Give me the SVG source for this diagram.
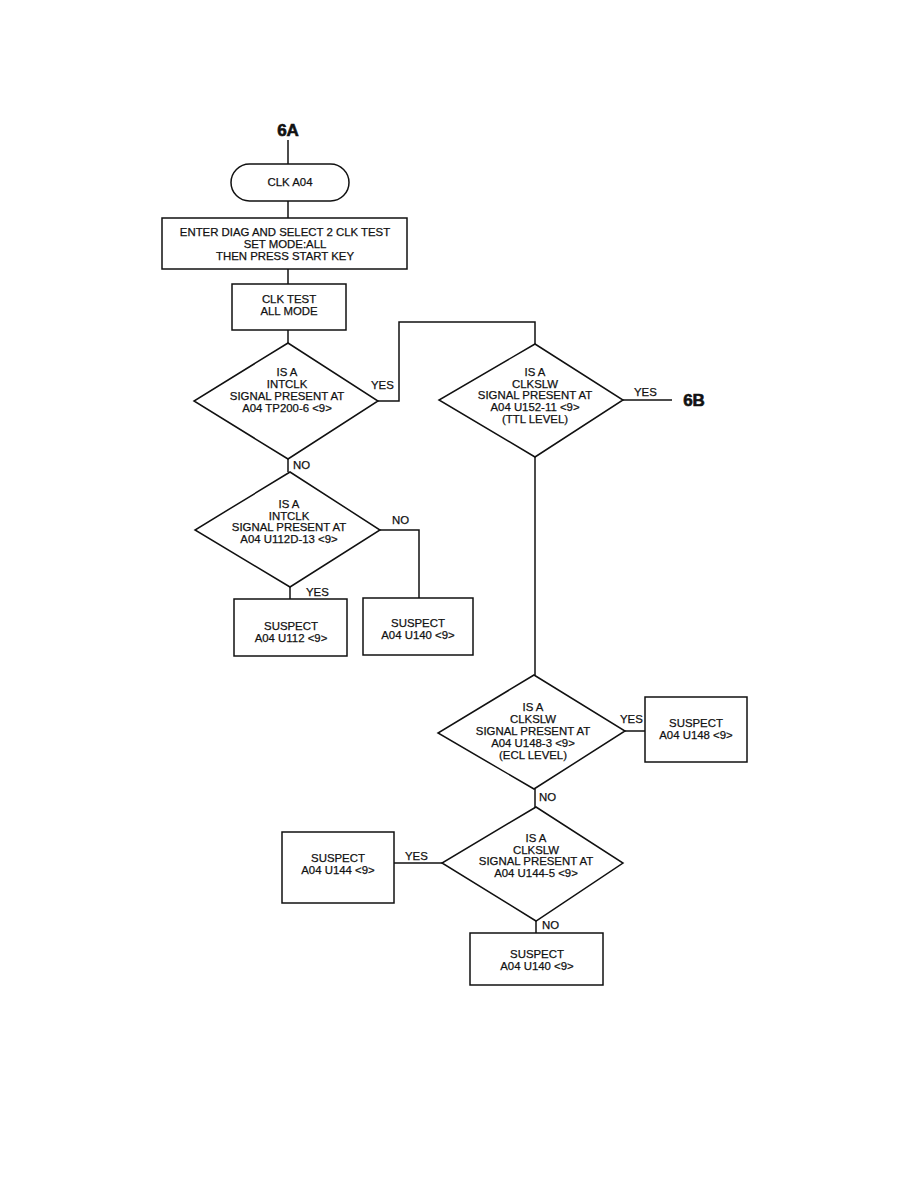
<svg xmlns="http://www.w3.org/2000/svg" width="918" height="1188" viewBox="0 0 918 1188">
<style>
.s{fill:#fff;stroke:#111;stroke-width:1.5}
.c{fill:none;stroke:#111;stroke-width:1.5}
text{font-family:"Liberation Sans",Arial,sans-serif;font-size:11.4px;fill:#111;stroke:#111;stroke-width:0.25;text-anchor:middle}
.l{text-anchor:start}
.b{font-size:17px;font-weight:bold;stroke-width:0.6}
</style>
<rect width="918" height="1188" fill="#fff"/>
<g id="connectors">
<path class="c" d="M288 140V164"/>
<path class="c" d="M288 201V218"/>
<path class="c" d="M288 269V284"/>
<path class="c" d="M288 330V343"/>
<path class="c" d="M378 401H399V322H535V344"/>
<path class="c" d="M623 400H672"/>
<path class="c" d="M288 459V472"/>
<path class="c" d="M380 530H419V598"/>
<path class="c" d="M290 587V599"/>
<path class="c" d="M535 457V675"/>
<path class="c" d="M625 731H645"/>
<path class="c" d="M535 789V807"/>
<path class="c" d="M442 863H394"/>
<path class="c" d="M536 921V933"/>
<text class="l" x="371" y="389">YES</text>
<text class="l" x="634" y="396">YES</text>
<text class="l" x="293" y="469">NO</text>
<text class="l" x="392" y="524">NO</text>
<text class="l" x="306" y="596">YES</text>
<text class="l" x="620" y="723">YES</text>
<text class="l" x="539" y="801">NO</text>
<text class="l" x="405" y="860">YES</text>
<text class="l" x="542" y="929">NO</text>
</g>
<g id="lbl6A"><text class="b" x="288" y="136">6A</text></g>
<g id="lbl6B"><text class="b" x="694" y="406">6B</text></g>
<g id="start">
<rect class="s" x="231" y="164" width="118" height="37" rx="18.5"/>
<text x="290" y="186">CLK A04</text>
</g>
<g id="enter">
<rect class="s" x="162" y="218" width="245" height="51"/>
<text x="285" y="236">ENTER DIAG AND SELECT 2 CLK TEST</text>
<text x="285" y="248">SET MODE:ALL</text>
<text x="285" y="260">THEN PRESS START KEY</text>
</g>
<g id="clktest">
<rect class="s" x="232" y="284" width="114" height="46"/>
<text x="289" y="303">CLK TEST</text>
<text x="289" y="315">ALL MODE</text>
</g>
<g id="d1">
<polygon class="s" points="288,343 378,401 288,459 194,401"/>
<text x="287" y="376">IS A</text>
<text x="287" y="388">INTCLK</text>
<text x="287" y="400">SIGNAL PRESENT AT</text>
<text x="287" y="412">A04 TP200-6 &lt;9&gt;</text>
</g>
<g id="d2">
<polygon class="s" points="535,344 623,400 535,457 439,400"/>
<text x="535" y="376">IS A</text>
<text x="535" y="388">CLKSLW</text>
<text x="535" y="399">SIGNAL PRESENT AT</text>
<text x="535" y="411">A04 U152-11 &lt;9&gt;</text>
<text x="535" y="423">(TTL LEVEL)</text>
</g>
<g id="d3">
<polygon class="s" points="290,472 380,530 290,587 195,530"/>
<text x="289" y="508">IS A</text>
<text x="289" y="520">INTCLK</text>
<text x="289" y="531">SIGNAL PRESENT AT</text>
<text x="289" y="543">A04 U112D-13 &lt;9&gt;</text>
</g>
<g id="u112">
<rect class="s" x="234" y="599" width="113" height="57"/>
<text x="291" y="630">SUSPECT</text>
<text x="291" y="642">A04 U112 &lt;9&gt;</text>
</g>
<g id="u140a">
<rect class="s" x="363" y="598" width="110" height="57"/>
<text x="418" y="627">SUSPECT</text>
<text x="418" y="639">A04 U140 &lt;9&gt;</text>
</g>
<g id="d4">
<polygon class="s" points="534,675 625,731 534,789 438,733"/>
<text x="533" y="711">IS A</text>
<text x="533" y="723">CLKSLW</text>
<text x="533" y="735">SIGNAL PRESENT AT</text>
<text x="533" y="747">A04 U148-3 &lt;9&gt;</text>
<text x="533" y="759">(ECL LEVEL)</text>
</g>
<g id="u148">
<rect class="s" x="645" y="697" width="102" height="65"/>
<text x="696" y="727">SUSPECT</text>
<text x="696" y="739">A04 U148 &lt;9&gt;</text>
</g>
<g id="d5">
<polygon class="s" points="536,807 623,863 536,921 442,863"/>
<text x="536" y="842">IS A</text>
<text x="536" y="854">CLKSLW</text>
<text x="536" y="865">SIGNAL PRESENT AT</text>
<text x="536" y="877">A04 U144-5 &lt;9&gt;</text>
</g>
<g id="u144">
<rect class="s" x="282" y="832" width="112" height="71"/>
<text x="338" y="862">SUSPECT</text>
<text x="338" y="874">A04 U144 &lt;9&gt;</text>
</g>
<g id="u140b">
<rect class="s" x="470" y="933" width="133" height="52"/>
<text x="537" y="958">SUSPECT</text>
<text x="537" y="970">A04 U140 &lt;9&gt;</text>
</g>
</svg>
